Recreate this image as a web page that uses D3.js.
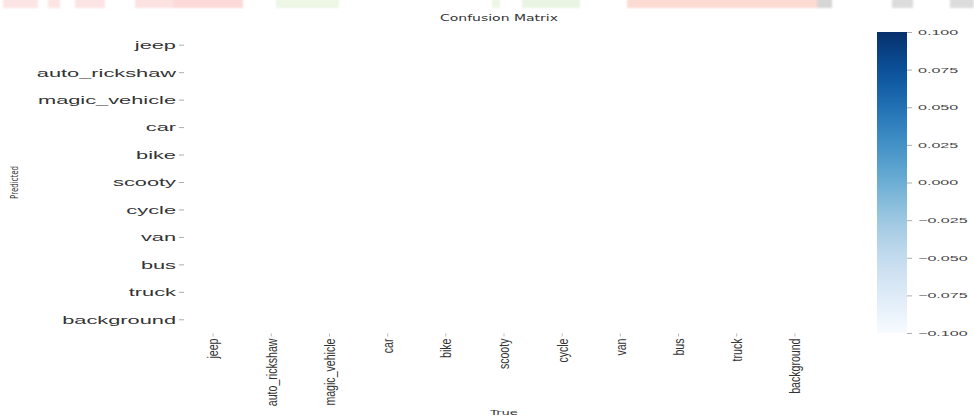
<!DOCTYPE html>
<html>
<head>
<meta charset="utf-8">
<script src="https://cdn.jsdelivr.net/npm/d3@7"></script>
<style>
  html, body { margin: 0; padding: 0; background: #fff; }
  svg { display: block; font-family: "DejaVu Sans", sans-serif; }
</style>
</head>
<body>
<svg id="chart" width="974" height="418"></svg>
<script>
// Class names, in the order used for both axes
const predictedClasses = ["jeep", "auto_rickshaw", "magic_vehicle", "car", "bike", "scooty",
                          "cycle", "van", "bus", "truck", "background"];
const trueClasses = ["jeep", "auto_rickshaw", "magic_vehicle", "car", "bike", "scooty",
                     "cycle", "van", "bus", "truck", "background"];

// Confusion matrix rows (predicted) x columns (true); values below the
// display threshold are stored as null and left blank
const rowJeep         = [null, null, null, null, null, null, null, null, null, null, null];
const rowAutoRickshaw = [null, null, null, null, null, null, null, null, null, null, null];
const rowMagicVehicle = [null, null, null, null, null, null, null, null, null, null, null];
const rowCar          = [null, null, null, null, null, null, null, null, null, null, null];
const rowBike         = [null, null, null, null, null, null, null, null, null, null, null];
const rowScooty       = [null, null, null, null, null, null, null, null, null, null, null];
const rowCycle        = [null, null, null, null, null, null, null, null, null, null, null];
const rowVan          = [null, null, null, null, null, null, null, null, null, null, null];
const rowBus          = [null, null, null, null, null, null, null, null, null, null, null];
const rowTruck        = [null, null, null, null, null, null, null, null, null, null, null];
const rowBackground   = [null, null, null, null, null, null, null, null, null, null, null];
const matrixRows = [rowJeep, rowAutoRickshaw, rowMagicVehicle, rowCar, rowBike, rowScooty,
                    rowCycle, rowVan, rowBus, rowTruck, rowBackground];

// Colour-scale range and its tick values
const colorDomain = [-0.1, 0.1];
const colorbarTicks = [0.100, 0.075, 0.050, 0.025, 0.000, -0.025, -0.050, -0.075, -0.100];

// Faint banner strip along the top edge: [x0, x1, colour]
const bannerStrips = [
  [3, 38, "#fde4e4"], [48, 60, "#fde4e4"], [75, 105, "#fde4e4"],
  [135, 173, "#fde2e2"], [173, 243, "#fdd9d9"], [276, 339, "#eef6e6"],
  [492, 500, "#eef6e6"], [522, 580, "#eaf4e2"], [627, 817, "#fddad2"],
  [817, 832, "#d6d6d6"], [892, 913, "#dcdcdc"], [950, 974, "#dcdcdc"]
];

const svg = d3.select("#chart");

// Banner strip
const defs = svg.append("defs");
defs.append("filter").attr("id", "soft")
  .append("feGaussianBlur").attr("stdDeviation", 1.2);
svg.append("g").attr("filter", "url(#soft)")
  .selectAll("rect").data(bannerStrips).join("rect")
  .attr("x", d => d[0]).attr("y", -2)
  .attr("width", d => d[1] - d[0]).attr("height", 10)
  .attr("fill", d => d[2]);

// Heatmap geometry
const hm = { left: 184, right: 824, top: 31.5, bottom: 333.5 };
const x = d3.scaleBand().domain(trueClasses).range([hm.left, hm.right]);
const y = d3.scaleBand().domain(predictedClasses).range([hm.top, hm.bottom]);
const color = d3.scaleSequential(d3.interpolateBlues).domain(colorDomain);

// Cells
const cells = [];
matrixRows.forEach((row, i) => row.forEach((v, j) => cells.push({ r: predictedClasses[i], c: trueClasses[j], v })));
svg.append("g").selectAll("rect").data(cells).join("rect")
  .attr("x", d => x(d.c)).attr("y", d => y(d.r))
  .attr("width", x.bandwidth()).attr("height", y.bandwidth())
  .attr("fill", d => d.v == null ? "none" : color(d.v));

// Y axis (Predicted)
const yAxis = svg.append("g").attr("transform", `translate(${hm.left},0)`)
  .call(d3.axisLeft(y).tickSize(5).tickPadding(3));
yAxis.select(".domain").remove();
yAxis.selectAll(".tick line").attr("stroke", "#999").attr("stroke-width", 0.8);
yAxis.selectAll(".tick text").remove();
yAxis.selectAll(".tick").append("text")
  .attr("transform", "translate(-8,0) scale(1.98,1)")
  .attr("text-anchor", "end").attr("dy", "0.35em")
  .attr("font-size", 11).attr("fill", "#333")
  .text(d => d);

// X axis (True)
const xAxis = svg.append("g").attr("transform", `translate(0,${hm.bottom})`)
  .call(d3.axisBottom(x).tickSize(3).tickPadding(2));
xAxis.select(".domain").remove();
xAxis.selectAll(".tick line").attr("stroke", "#aaa").attr("stroke-width", 0.8);
xAxis.selectAll(".tick text").remove();
xAxis.selectAll(".tick").append("text")
  .attr("transform", "translate(0,5) rotate(-90) scale(1,1.45)")
  .attr("text-anchor", "end").attr("dy", "0.35em")
  .attr("font-size", 10.6).attr("fill", "#333")
  .text(d => d);

// Axis titles and chart title
svg.append("text")
  .attr("transform", `translate(${(hm.left + hm.right) / 2},415) scale(1.75,1)`)
  .attr("text-anchor", "middle").attr("font-size", 7.5).attr("fill", "#333")
  .text("True");
svg.append("text")
  .attr("transform", `translate(18,${(hm.top + hm.bottom) / 2}) rotate(-90) scale(1,1.6)`)
  .attr("text-anchor", "middle").attr("font-size", 7).attr("fill", "#333")
  .text("Predicted");
svg.append("text")
  .attr("transform", `translate(${(hm.left + hm.right) / 2 - 5},21) scale(1.75,1)`)
  .attr("text-anchor", "middle").attr("font-size", 8).attr("fill", "#333")
  .text("Confusion Matrix");

// Colour bar
const cb = { left: 877, right: 907, top: 32, bottom: 333 };
const cbScale = d3.scaleLinear().domain(colorDomain).range([cb.bottom, cb.top]);
const grad = defs.append("linearGradient").attr("id", "cbGrad")
  .attr("x1", 0).attr("y1", 1).attr("x2", 0).attr("y2", 0);
d3.range(0, 1.0001, 0.05).forEach(t => {
  grad.append("stop").attr("offset", t).attr("stop-color", d3.interpolateBlues(t));
});
svg.append("rect")
  .attr("x", cb.left).attr("y", cb.top)
  .attr("width", cb.right - cb.left).attr("height", cb.bottom - cb.top)
  .attr("fill", "url(#cbGrad)");

const cbAxis = svg.append("g").attr("transform", `translate(${cb.right},0)`)
  .call(d3.axisRight(cbScale).tickValues(colorbarTicks).tickSize(5).tickPadding(6));
cbAxis.select(".domain").remove();
cbAxis.selectAll(".tick line").attr("stroke", "#999").attr("stroke-width", 0.8);
cbAxis.selectAll(".tick text").remove();
cbAxis.selectAll(".tick").append("text")
  .attr("transform", "translate(11,0) scale(2.3,1)")
  .attr("dy", "0.35em").attr("font-size", 7).attr("fill", "#444")
  .text(d => d3.format(".3f")(d));
</script>
</body>
</html>
